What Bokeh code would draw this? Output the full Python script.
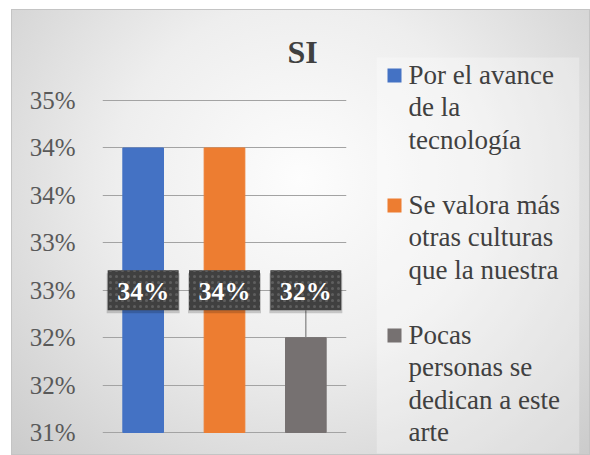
from bokeh.plotting import figure
from bokeh.layouts import row, column
from bokeh.models import FixedTicker, Range1d, ColumnDataSource, Spacer, Label
from bokeh.core.properties import value
from bokeh.embed import file_html
from bokeh.resources import INLINE

# ---------------- data ----------------
categories = ["Por el avance de la tecnología",
              "Se valora más otras culturas que la nuestra",
              "Pocas personas se dedican a este arte"]
values = [34.0, 34.0, 32.0]
value_labels = ["34%", "34%", "32%"]
colors = ["#4472C4", "#ED7D31", "#767171"]
y_ticks = [31.0, 31.5, 32.0, 32.5, 33.0, 33.5, 34.0, 34.5]
y_tick_labels = ["31%", "32%", "32%", "33%", "33%", "34%", "34%", "35%"]
legend_lines = [["Por el avance", "de la", "tecnología"],
                ["Se valora más", "otras culturas", "que la nuestra"],
                ["Pocas", "personas se", "dedican a este", "arte"]]
title_text = "SI"
y_start, y_end = 31.0, 34.5
label_level = 32.5

# ---------------- layout (page pixels) ----------------
OX, OY = 11, 9                        # chart offset on the page
PL, PR, PT, PB = 102, 346, 100, 432   # where the value axis spans
LL, LR, LT, LB = 376, 579, 57, 453    # legend box edges
FT, FBm = 20, 455                     # shared frame top / bottom
CH = 455 - OY
WA = LL - OX
WB = 590 - LL
SERIF = "Liberation Serif"
TEXT = "#404040"

upp = (y_end - y_start) / (PB - PT)          # data units per pixel
yr = Range1d(y_start - (FBm - PB) * upp, y_end + (PT - FT) * upp)

def ydata(page_y):
    return y_end + (PT - page_y) * upp

def xdata(page_x):
    return (page_x - PL) / ((PR - PL) / len(categories))

p = figure(x_range=categories, y_range=yr, title=None,
           width=WA, height=CH, output_backend="svg", toolbar_location=None,
           min_border_left=PL - OX, min_border_right=WA - (PR - OX),
           min_border_top=FT - OY, min_border_bottom=CH - (FBm - OY))
p.background_fill_color = None
p.border_fill_color = None
p.outline_line_color = None

src = ColumnDataSource(dict(cat=categories, val=values, col=colors,
                            lab=value_labels, ly=[label_level] * len(values),
                            sh=[label_level - 3 * upp] * len(values)))
p.vbar(x="cat", top="val", bottom=y_start, width=0.5, color="col", source=src)

p.xaxis.visible = False
p.xgrid.visible = False
ticker = FixedTicker(ticks=y_ticks)
p.yaxis.ticker = ticker
p.ygrid.ticker = ticker
p.ygrid.grid_line_color = "#a3a3a3"
p.yaxis.major_label_overrides = {t: l for t, l in zip(y_ticks, y_tick_labels)}
p.yaxis.axis_line_color = None
p.yaxis.major_tick_line_color = None
p.yaxis.minor_tick_line_color = None
p.yaxis.major_tick_out = 0
p.yaxis.major_tick_in = 0
p.yaxis.major_label_standoff = 27
p.yaxis.major_label_text_font = SERIF
p.yaxis.major_label_text_font_size = "25px"
p.yaxis.major_label_text_color = "#595959"

# title (middle of the capitals)
p.add_layout(Label(x=xdata(302), y=ydata(51), text=title_text, text_font=SERIF,
                   text_font_style="bold", text_font_size="32px",
                   text_color=TEXT, text_align="center",
                   text_baseline="middle"))

# data labels
box_h = 40
box_bottom = label_level - (box_h / 2) * upp
lead_x = [c for c, v in zip(categories, values) if v < box_bottom]
lead_v = [v for v in values if v < box_bottom]
if lead_x:
    p.segment(x0=lead_x, y0=[box_bottom] * len(lead_x), x1=lead_x, y1=lead_v,
              line_color="#7f7f7f", line_width=1.2)
p.rect(x="cat", y="sh", width=73, height=box_h, width_units="screen",
       height_units="screen", fill_color="#000000", fill_alpha=0.18,
       line_color=None, source=src)
p.rect(x="cat", y="ly", width=71, height=box_h, width_units="screen",
       height_units="screen", fill_color="#404040", line_color=None,
       hatch_pattern="dot", hatch_color="#5e5e5e", hatch_scale=6,
       hatch_weight=1, source=src)
p.text(x="cat", y="ly", text="lab", text_font=value(SERIF),
       text_font_style="bold", text_font_size="26px", text_color="white",
       text_align="center", text_baseline="middle", y_offset=1, source=src)

# ---------------- legend panel ----------------
q = figure(x_range=Range1d(LL, LR), y_range=Range1d(FBm, FT), title=None,
           width=WB, height=CH, output_backend="svg", toolbar_location=None,
           min_border_left=0, min_border_right=WB - (LR - LL),
           min_border_top=FT - OY, min_border_bottom=CH - (FBm - OY))
q.axis.visible = False
q.grid.visible = False
q.outline_line_color = None
q.background_fill_color = None
q.border_fill_color = None
q.quad(left=[LL], right=[LR], top=[LT], bottom=[LB], fill_color="#ffffff",
       fill_alpha=0.3, line_color=None)

base, step = 74, 32.5      # middle of first line, line pitch
sq_x, sq_size, txt_x = 394, 14, 408
sx, sy, scol, tx, ty, tt = [], [], [], [], [], []
for i, (lines, col) in enumerate(zip(legend_lines, colors)):
    first = base + step * 4 * i
    sx.append(sq_x)
    sy.append(first + 1)
    scol.append(col)
    for j, t in enumerate(lines):
        tx.append(txt_x)
        ty.append(first + step * j)
        tt.append(t)
q.rect(x=sx, y=sy, width=sq_size, height=sq_size, fill_color=scol, line_color=None)
q.text(x=tx, y=ty, text=tt, text_font=value(SERIF), text_font_size="27px",
       text_color=TEXT, text_align="left", text_baseline="middle")

chart = row(p, q, styles={
    "background": "radial-gradient(ellipse farthest-corner at 50% 38%, "
                  "#fdfdfd 0%, #eeeeee 45%, #cbcbcb 100%)",
    "box-shadow": "inset 0 0 0 1px #c4c4c4"})
layout = column(Spacer(height=OY, width=590),
                row(Spacer(width=OX, height=CH), chart))
open("out.html", "w").write(file_html(layout, INLINE))
